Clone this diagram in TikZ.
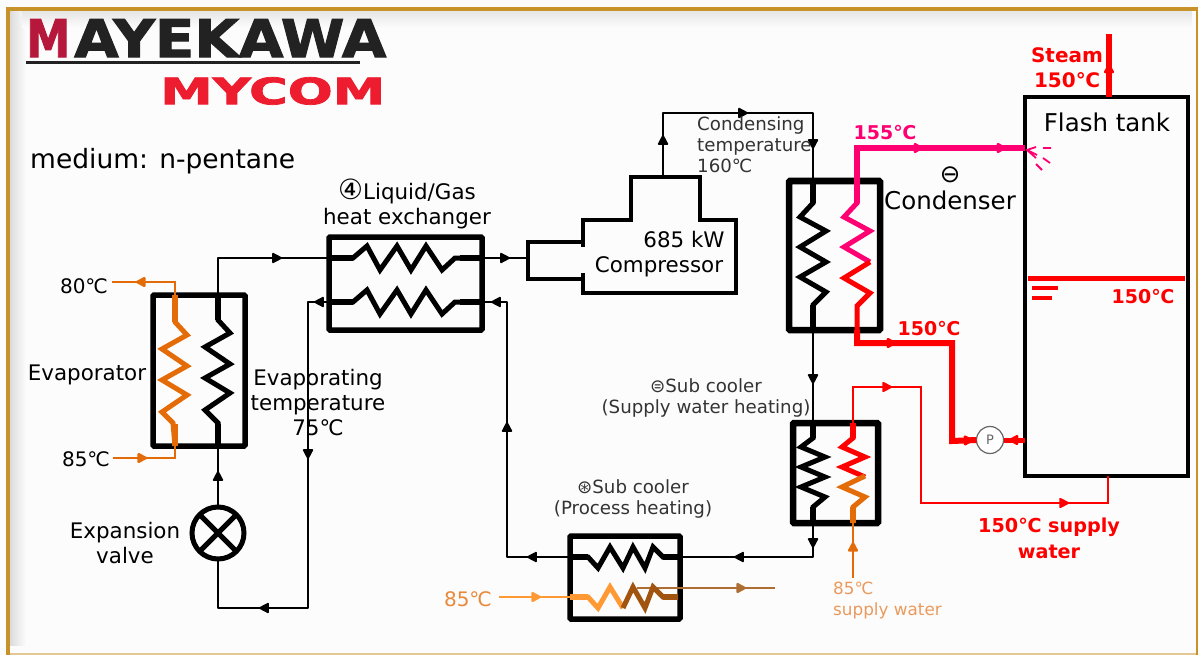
\documentclass[tikz,border=0pt]{standalone}
\usepackage{graphicx}
\usepackage{fontspec}
\setmainfont{DejaVu Sans}
\newfontfamily\logofont[BoldFeatures={FakeBold=2}]{DejaVu Sans}
\usepackage{xcolor}
\usetikzlibrary{arrows.meta}
\usetikzlibrary{decorations.markings}

\definecolor{framegold}{HTML}{C8922A}
\definecolor{logored}{HTML}{B5183A}
\definecolor{logoblack}{HTML}{222222}
\definecolor{mycomred}{HTML}{ED1C2E}
\definecolor{hotpink}{HTML}{FF0073}
\definecolor{waterred}{HTML}{FF0000}
\definecolor{heatorange}{HTML}{E36C09}
\definecolor{procorange}{HTML}{FF9933}
\definecolor{procbrown}{HTML}{A0540F}
\definecolor{labelorange}{HTML}{EB9A5C}
\definecolor{labelgrey}{HTML}{333333}

\tikzset{
    flowat/.style={postaction={decorate,decoration={markings,
        mark=at position #1 with {\arrow{Triangle[length=11pt,width=11pt,round]}}}}},
    pipe/.style={draw=black,line width=1.8pt,line join=round},
    coil/.style={line width=5pt,line join=miter},
    stub/.style={line width=6.5pt},
    hxbox/.style={draw=black,line width=5.5pt,rounded corners=1pt,inner sep=0pt,outer sep=0pt},
    txt/.style={inner sep=0pt,align=center,text=#1},
    txt/.default=black,
    txtbig/.style={font=\fontsize{21.4}{25}\selectfont},
    txttemp/.style={font=\fontsize{20}{24}\selectfont},
    txtlarge/.style={font=\fontsize{24.5}{27}\selectfont},
    txtsmall/.style={font=\fontsize{18.2}{21}\selectfont}
}

\begin{document}
\begin{tikzpicture}[x=1pt,y=-1pt]
    \useasboundingbox (0,0) rectangle (1198,655);
    \fill[white!99!black] (0,0) rectangle (1198,655);

    % frame
    \shade[left color=black!14,right color=white!99!black] (10,11) rectangle (26,645);
    \shade[top color=black!10,bottom color=white!99!black] (22,11) rectangle (1192,28);
    \fill[framegold] (6,7) rectangle (10,655);
    \fill[framegold] (6,7) rectangle (1198,11);
    \fill[framegold] (1196,7) rectangle (1198,655);
    \fill[framegold!50] (10,653) rectangle (1196,655);

    % logo
    \node[inner sep=0pt,anchor=north west,text=logored] (logoM) at (26,19) {\resizebox{44pt}{38pt}{\logofont\bfseries M}};
    \node[inner sep=0pt,anchor=north west,text=logoblack] (logoA) at (74,19) {\resizebox{312pt}{38pt}{\logofont\bfseries AYEKAWA}};
    \node[inner sep=0pt,anchor=north west,text=mycomred] (logoB) at (160,77) {\resizebox{225pt}{27pt}{\logofont\bfseries MYCOM}};
    \coordinate (lineL) at (26,63);
    \coordinate (lineR) at (360,63);
    \draw[logoblack,line width=3pt] (lineL) -- (lineR);

    \node[txt,anchor=west,font=\fontsize{26.5}{30}\selectfont] (medium) at (30,161) {medium: n-pentane};

    % boxes
    \node[hxbox,minimum width=92pt,minimum height=151pt] (evap) at (199,370.5) {};
    \node[hxbox,minimum width=153pt,minimum height=93pt] (ihx) at (405.5,283.5) {};
    \node[hxbox,line width=6.5pt,minimum width=91pt,minimum height=149pt] (cond) at (834.5,255.5) {};
    \node[hxbox,line width=6.5pt,minimum width=85pt,minimum height=100pt] (subw) at (835.5,473) {};
    \node[hxbox,minimum width=110pt,minimum height=83pt] (subp) at (625,577.5) {};
    \node[draw=black,line width=4.5pt,inner sep=0pt,outer sep=0pt,minimum width=163pt,minimum height=379pt] (tank) at (1106.5,286.5) {};

    % compressor
    \draw[black,line width=3.5pt,line join=miter] (583,247) -- (583,220) -- (631,220) -- (631,177) -- (700,177) -- (700,220) -- (736,220) -- (736,293) -- (583,293) -- (583,273)
        (583,242) -- (528,242) -- (528,279) -- (583,279);
    \coordinate (compin) at (528,258);
    \coordinate (compout) at (663,177);

    % valve
    \node[circle,draw=black,line width=5pt,minimum size=52pt,inner sep=0pt,outer sep=0pt] (valve) at (218,533) {};
    \draw[black,line width=5pt] (valve.45) -- (valve.225) (valve.135) -- (valve.315);

    % pump
    \node[circle,draw=black!60,fill=white,line width=1.2pt,minimum size=27pt,inner sep=0pt,outer sep=0pt,text=black!60,font=\fontsize{13}{15}\selectfont] (pump) at (990,440) {P};

    % refrigerant loop
    \coordinate (a1) at (218,258);
    \coordinate (a2) at (663,113);
    \coordinate (a3) at (813,113);
    \coordinate (a4) at (813,557);
    \coordinate (a5) at (507,557);
    \coordinate (a6) at (507,302);
    \coordinate (a7) at (308,302);
    \coordinate (a8) at (308,608);
    \coordinate (a9) at (218,608);
    \coordinate (evapT) at (218,295);
    \coordinate (evapB) at (218,446);
    \coordinate (ihxA) at (329,258);
    \coordinate (ihxB) at (482,258);
    \coordinate (ihxC) at (482,302);
    \coordinate (ihxD) at (329,302);
    \coordinate (condT) at (813,181);
    \coordinate (condB) at (813,330);
    \coordinate (subwT) at (813,423);
    \coordinate (subwB) at (813,523);
    \coordinate (subpE) at (680,557);
    \coordinate (subpW) at (570,557);

    \draw[pipe,flowat=101pt] (evapT) -- (a1) -- (ihxA);
    \draw[pipe,flowat=28pt] (ihxB) -- (compin);
    \draw[pipe,flowat=42pt,flowat=149pt,flowat=250pt] (compout) -- (a2) -- (a3) -- (condT);
    \draw[pipe,flowat=54pt] (condB) -- (subwT);
    \draw[pipe,flowat=25pt,flowat=113pt] (subwB) -- (a4) -- (subpE);
    \draw[pipe,flowat=43pt,flowat=198pt,flowat=334pt] (subpW) -- (a5) -- (a6) -- (ihxC);
    \draw[pipe,flowat=15pt,flowat=178pt,flowat=376pt] (ihxD) -- (a7) -- (a8) -- (a9) -- (valve.south);
    \draw[pipe,flowat=36pt] (valve.north) -- (evapB);

    % evaporator
    \coordinate (b1) at (175,295);
    \coordinate (b2) at (175,282);
    \coordinate (b3) at (112,282);
    \coordinate (b4) at (175,446);
    \coordinate (b5) at (175,458);
    \coordinate (b6) at (113,458);
    \draw[heatorange,line width=2.4pt,flowat=52pt] (b1) -- (b2) -- (b3);
    \draw[heatorange,line width=2.4pt,flowat=34pt] (b6) -- (b5) -- (b4);
    \draw[coil,heatorange] (b1) -- ++(0,27) -- ++(12,13) -- ++(-25,14) -- ++(25,17) -- ++(-25,14) -- ++(25,15) -- ++(-25,17) -- ++(11,11) -- (b4);
    \draw[stub,heatorange] (b1) -- ++(0,27) (b4) -- ++(0,-22);
    \draw[coil,black] (evapT) -- ++(0,25) -- ++(12,13) -- ++(-25,14) -- ++(25,17) -- ++(-25,14) -- ++(25,15) -- ++(-25,17) -- ++(13,13) -- (evapB);
    \draw[stub,black] (evapT) -- ++(0,25) (evapB) -- ++(0,-22);

    % liquid/gas exchanger
    \draw[coil,black] (ihxA) -- ++(24,0) -- ++(14,-12) -- ++(13,24) -- ++(17,-24) -- ++(14,24) -- ++(15,-24) -- ++(16,24) -- ++(13,-12) -- (ihxB);
    \draw[coil,black] (ihxD) -- ++(24,0) -- ++(14,-12) -- ++(13,24) -- ++(17,-24) -- ++(14,24) -- ++(15,-24) -- ++(16,24) -- ++(13,-12) -- (ihxC);
    \draw[stub,black] (ihxA) -- ++(24,0) (ihxB) -- ++(-22,0) (ihxD) -- ++(24,0) (ihxC) -- ++(-22,0);

    % condenser
    \draw[coil,black] (condT) -- ++(0,22) -- ++(-13,14) -- ++(26,14) -- ++(-26,16) -- ++(26,15) -- ++(-26,15) -- ++(26,15) -- ++(-13,13) -- (condB);
    \draw[stub,black] (condT) -- ++(0,22) (condB) -- ++(0,-25);
    \coordinate (c1) at (857,181);
    \coordinate (c2) at (857,148);
    \coordinate (c3) at (1025,148);
    \coordinate (c4) at (870,262);
    \coordinate (c5) at (857,330);
    \coordinate (c6) at (857,343);
    \coordinate (c7) at (952,343);
    \coordinate (c8) at (952,441);
    \draw[hotpink,line width=6pt,flowat=99pt,flowat=182pt] (c1) -- (c2) -- (c3);
    \draw[coil,hotpink] (c1) -- ++(0,22) -- ++(-13,14) -- ++(26,14) -- ++(-26,16) -- ++(26,15);
    \draw[stub,hotpink] (c1) -- ++(0,22);
    \draw[coil,waterred] (c4) -- ++(-26,16) -- ++(26,15) -- ++(-13,13) -- (c5);
    \draw[waterred,line width=6pt,line join=miter,flowat=52pt,flowat=227pt] (c5) -- (c6) -- (c7) -- (c8) -- (pump.west);

    % sub cooler, supply water
    \draw[coil,black] (subwT) -- ++(0,15) -- ++(-12,9) -- ++(24,10) -- ++(-24,10) -- ++(24,10) -- ++(-24,10) -- ++(24,10) -- ++(-12,10) -- (subwB);
    \draw[stub,black] (subwT) -- ++(0,15) (subwB) -- ++(0,-16);
    \coordinate (d1) at (853,423);
    \coordinate (d2) at (853,387);
    \coordinate (d3) at (921,387);
    \coordinate (d4) at (921,503);
    \coordinate (d5) at (1108,503);
    \coordinate (d6) at (1108,476);
    \coordinate (d7) at (853,523);
    \coordinate (d8) at (853,578);
    \coordinate (d9) at (865,476);
    \draw[waterred,line width=2pt,flowat=75pt,flowat=368pt] (d1) -- (d2) -- (d3) -- (d4) -- (d5) -- (d6);
    \draw[coil,waterred] (d1) -- ++(0,15) -- ++(-11,9) -- ++(23,10) -- ++(-23,10) -- ++(23,10);
    \draw[stub,waterred] (d1) -- ++(0,15);
    \draw[coil,heatorange] (d9) -- ++(-23,11) -- ++(23,10) -- ++(-12,10) -- (d7);
    \draw[stub,heatorange] (d7) -- ++(0,-16);
    \draw[heatorange,line width=2.2pt,flowat=36pt] (d8) -- (d7);

    % sub cooler, process heating
    \draw[coil,black] (subpW) -- ++(18,0) -- ++(10,11) -- ++(12,-21) -- ++(13,21) -- ++(10,-21) -- ++(12,21) -- ++(8,-21) -- ++(10,10) -- (subpE);
    \draw[stub,black] (subpW) -- ++(18,0) (subpE) -- ++(-17,0);
    \coordinate (e1) at (499,597);
    \coordinate (e2) at (570,597);
    \coordinate (e3) at (678,597);
    \coordinate (e4) at (637,588);
    \coordinate (e5) at (775,588);
    \coordinate (e6) at (623,608);
    \draw[procorange,line width=2.2pt,flowat=42pt] (e1) -- (e2);
    \draw[procbrown!85,line width=2.2pt,flowat=109pt] (e4) -- (e5);
    \draw[coil,procorange] (e2) -- ++(18,0) -- ++(10,11) -- ++(12,-21) -- ++(13,21);
    \draw[stub,procorange] (e2) -- ++(18,0);
    \draw[coil,procbrown] (e6) -- ++(10,-21) -- ++(12,21) -- ++(8,-21) -- ++(10,10) -- (e3);
    \draw[stub,procbrown] (e3) -- ++(-15,0);

    % flash tank
    \coordinate (f1) at (1109,97);
    \coordinate (f2) at (1109,34);
    \coordinate (f3) at (1028,278);
    \coordinate (f4) at (1185,278);
    \draw[waterred,line width=5.5pt,flowat=33pt] (f1) -- (f2);
    \draw[waterred,line width=5pt] (f3) -- (f4);
    \draw[waterred,line width=4.5pt] (1032,288) -- (1058,288) (1032,298) -- (1052,298);
    \draw[waterred,line width=5pt,flowat=16pt] (tank.west |- pump) -- (pump.east);

    % spray into the tank
    \draw[hotpink,line width=1.8pt] (1036,147) -- (1027,150) -- (1036,158) (1027,150) -- (1037,155)
        (1043,148) -- (1051,148) (1043,158) -- (1050,163) (1036,164) -- (1042,170);

    % labels
    \node[txt,txttemp] (n1) at (84,286) {80℃};
    \node[txt,txttemp] (n2) at (86,459) {85℃};
    \node[txt,txtbig] (n3) at (87,375) {Evaporator};
    \node[txt,txtbig] (n4) at (125,543) {Expansion\\valve};
    \node[txt,txtbig] (n5) at (318,403) {Evaporating\\temperature\\75℃};
    \node[txt,txtbig] (n6) at (407,204) {\scalebox{1.3}{④}Liquid/Gas\\heat exchanger};
    \node[txt,txtbig] (n7) at (684,240) {685 kW};
    \node[txt,txtbig] (n7b) at (659,267) {Compressor};
    \node[txt=labelgrey,txtsmall,align=left,anchor=north west] (n8) at (697,116) {Condensing\\temperature\\160℃};
    \node[txt=labelgrey,txtsmall] (n9) at (706,398) {⊜Sub cooler\\(Supply water heating)};
    \node[txt=labelgrey,txtsmall] (n10) at (633,499) {⊛Sub cooler\\(Process heating)};
    \node[txt,txtlarge] (n11) at (950,188) {⊖\\Condenser};
    \node[txt,txtlarge] (n12) at (1107,122) {Flash tank};
    \node[txt=waterred,font=\fontsize{20}{25}\selectfont\bfseries] (n13) at (1067,68) {Steam\\150℃};
    \node[txt=hotpink,font=\fontsize{19}{22}\selectfont\bfseries] (n14) at (885,133) {155℃};
    \node[txt=waterred,font=\fontsize{19}{22}\selectfont\bfseries] (n15) at (929,329) {150℃};
    \node[txt=waterred,font=\fontsize{19}{22}\selectfont\bfseries] (n16) at (1143,297) {150℃};
    \node[txt=waterred,font=\fontsize{19.2}{26}\selectfont\bfseries] (n17) at (1049,538) {150℃ supply\\water};
    \node[txt=heatorange!80,txttemp] (n18) at (468,599) {85℃};
    \node[txt=labelorange,font=\fontsize{16.8}{21}\selectfont,align=left,anchor=north west] (n19) at (833,582) {85℃\\supply water};
\end{tikzpicture}
\end{document}
